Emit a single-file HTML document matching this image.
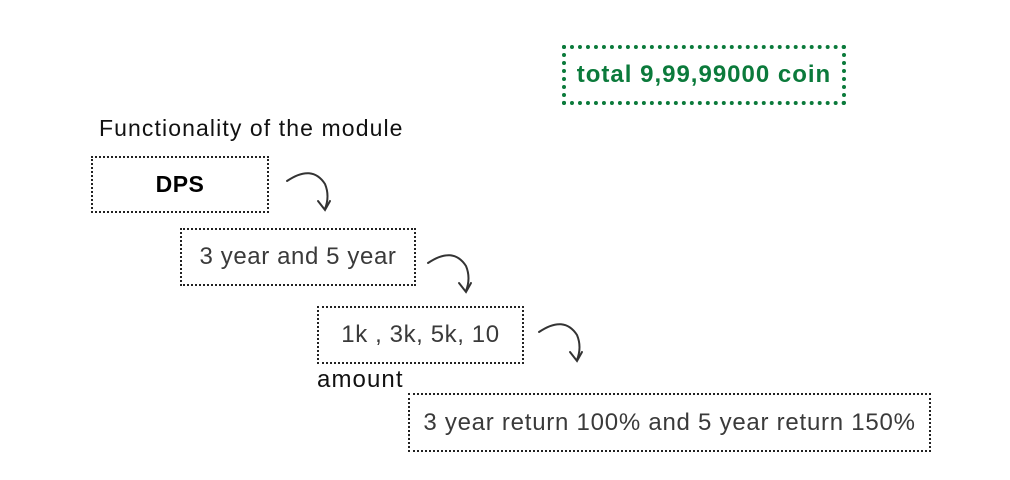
<!DOCTYPE html>
<html><head><meta charset="utf-8"><style>
body{margin:0;width:1010px;height:480px;background:#fff;position:relative;overflow:hidden;font-family:"Liberation Sans",sans-serif;}
.box{position:absolute;box-sizing:border-box;border:2px dotted #222;display:flex;align-items:center;justify-content:center;color:#3a3a3a;font-size:24px;letter-spacing:0.6px;white-space:nowrap;}
.lbl{position:absolute;color:#111;font-size:23px;letter-spacing:1.1px;white-space:nowrap;}
svg{position:absolute;left:0;top:0;}
</style></head><body>
<div class="box" style="left:562px;top:45px;width:284px;height:60px;border:4px dotted #0b7a3b;color:#0b7a3b;font-weight:bold;font-size:24px;letter-spacing:1px;">total 9,99,99000 coin</div>
<div class="lbl" style="left:99px;top:115px;">Functionality of the module</div>
<div class="box" style="left:91px;top:156px;width:178px;height:57px;font-weight:bold;color:#000;font-size:23px;letter-spacing:0.5px;">DPS</div>
<div class="box" style="left:180px;top:228px;width:236px;height:58px;">3 year and 5 year</div>
<div class="box" style="left:317px;top:306px;width:207px;height:58px;">1k , 3k, 5k, 10</div>
<div class="lbl" style="left:317px;top:366px;font-size:24px;">amount</div>
<div class="box" style="left:408px;top:393px;width:523px;height:59px;letter-spacing:0.75px;">3 year return 100% and 5 year return 150%</div>
<svg width="1010" height="480" fill="none" stroke="#333" stroke-width="2" stroke-linecap="round">
<g><path d="M287 181 Q312 164 325 184 Q330 196 325 209"/><path d="M318 201 L325 210 L330 201"/></g>
<g><path d="M428 263 Q453 246 466 266 Q471 278 466 291"/><path d="M459 283 L466 292 L471 283"/></g>
<g><path d="M539 332 Q564 315 577 335 Q582 347 577 360"/><path d="M570 352 L577 361 L582 352"/></g>
</svg>
</body></html>
